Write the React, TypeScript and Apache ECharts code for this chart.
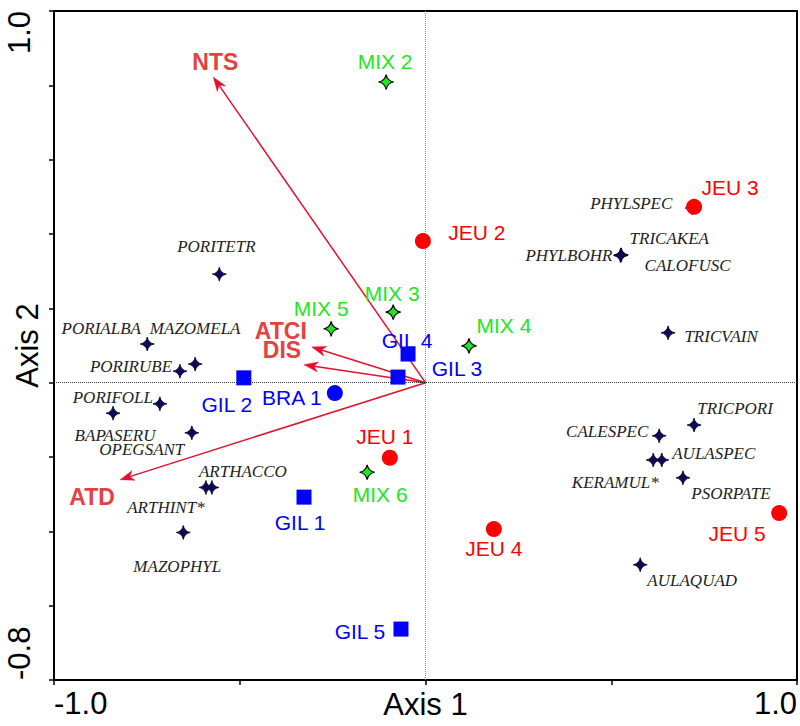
import React, { useEffect, useRef } from "react";
import * as echarts from "echarts";

// CCA biplot: sites, species scores and environmental vectors on axes 1 and 2

const gilNames = ["GIL 1", "GIL 2", "GIL 3", "GIL 4", "GIL 5"];
const gilAxis1 = [-0.327, -0.489, -0.074, -0.047, -0.066];
const gilAxis2 = [-0.308, 0.013, 0.015, 0.077, -0.663];

const braNames = ["BRA 1"];
const braAxis1 = [-0.244];
const braAxis2 = [-0.028];

const jeuNames = ["JEU 1", "JEU 2", "JEU 3", "JEU 4", "JEU 5"];
const jeuAxis1 = [-0.096, -0.007, 0.723, 0.184, 0.952];
const jeuAxis2 = [-0.202, 0.381, 0.473, -0.394, -0.351];

const mixNames = ["MIX 2", "MIX 3", "MIX 4", "MIX 5", "MIX 6"];
const mixAxis1 = [-0.106, -0.087, 0.117, -0.254, -0.157];
const mixAxis2 = [0.809, 0.19, 0.099, 0.145, -0.241];

const envNames = ["NTS", "ATCI", "DIS", "ATD"];
const envAxis1 = [-0.571, -0.306, -0.327, -0.822];
const envAxis2 = [0.822, 0.096, 0.048, -0.261];

const speciesNames = [
  "PORITETR", "PORIALBA", "MAZOMELA", "PORIRUBE", "PORIFOLL", "BAPASERU",
  "OPEGSANT", "ARTHACCO", "ARTHINT*", "MAZOPHYL", "PHYLSPEC", "PHYLBOHR",
  "TRICAKEA", "CALOFUSC", "TRICVAIN", "TRICPORI", "CALESPEC", "AULASPEC",
  "KERAMUL*", "PSORPATE", "AULAQUAD",
];
const speciesAxis1 = [
  -0.555, -0.749, -0.62, -0.661, -0.715, -0.841,
  -0.629, -0.575, -0.591, -0.652, 0.718, 0.526,
  0.527, 0.525, 0.653, 0.723, 0.629, 0.636,
  0.613, 0.693, 0.578,
];
const speciesAxis2 = [
  0.292, 0.104, 0.05, 0.031, -0.057, -0.082,
  -0.135, -0.282, -0.282, -0.403, 0.47, 0.343,
  0.344, 0.342, 0.134, -0.114, -0.143, -0.208,
  -0.208, -0.256, -0.49,
];

// label placement around each mark, in pixels
const labelOffsets: Record<string, [number, number]> = {
  "GIL 1": [-4, 25], "GIL 2": [-17, 27], "GIL 3": [59, -9], "GIL 4": [-1, -14],
  "GIL 5": [-41, 2], "BRA 1": [-43, 4],
  "JEU 1": [-5, -21], "JEU 2": [54, -9], "JEU 3": [36, -19], "JEU 4": [0, 19], "JEU 5": [-42, 20],
  "MIX 2": [-1, -20], "MIX 3": [-1, -19], "MIX 4": [35, -20], "MIX 5": [-10, -20], "MIX 6": [13, 22],
  NTS: [2, -15], ATCI: [-31, -16], DIS: [-22, -15], ATD: [-28, 17],
  PORITETR: [-3, -28], PORIALBA: [-46, -16], MAZOMELA: [0, -36], PORIRUBE: [-49, -5],
  PORIFOLL: [-47, -6], BAPASERU: [2, 22], OPEGSANT: [-50, 17], ARTHACCO: [31, -16],
  "ARTHINT*": [-40, 20], MAZOPHYL: [-6, 34], PHYLSPEC: [-61, -4], PHYLBOHR: [-52, 0],
  TRICAKEA: [48, -16], CALOFUSC: [67, 10], TRICVAIN: [53, 4], TRICPORI: [41, -17],
  CALESPEC: [-52, -4], AULASPEC: [52, -6], "KERAMUL*": [-38, 23], PSORPATE: [48, 16],
  AULAQUAD: [52, 16],
};

const STAR = "path://M0 -10 Q1.6 -1.6 10 0 Q1.6 1.6 0 10 Q-1.6 1.6 -10 0 Q-1.6 -1.6 0 -10 Z";
const SANS = "Liberation Sans, Arial, sans-serif";
const SERIF = "Liberation Serif, Times New Roman, serif";

function points(names: string[], xs: number[], ys: number[]) {
  return names.map((name, i) => {
    const off = labelOffsets[name] || [0, 0];
    return {
      name,
      value: [xs[i], ys[i]],
      label: { offset: off },
    };
  });
}

function siteLabel(color: string) {
  return {
    show: true,
    formatter: "{b}",
    position: "inside",
    align: "center",
    verticalAlign: "middle",
    color,
    opacity: 1,
    fontFamily: SANS,
    fontSize: 21,
  };
}

export default function App() {
  const ref = useRef<HTMLDivElement>(null);

  useEffect(() => {
    if (!ref.current) return;
    const chart = echarts.init(ref.current, undefined, { renderer: "svg" });

    const arrowData = envNames.map((name, i) => ({ name, value: [envAxis1[i], envAxis2[i]] }));

    chart.setOption({
      animation: false,
      backgroundColor: "#ffffff",
      grid: {
        left: 54,
        top: 11,
        right: 3,
        bottom: 46,
        containLabel: false,
        outerBoundsMode: "none",
        show: true,
        borderColor: "#000",
        borderWidth: 2,
        backgroundColor: "transparent",
      },
      xAxis: {
        type: "value",
        min: -1,
        max: 1,
        interval: 0.5,
        name: "Axis 1",
        nameLocation: "middle",
        nameGap: 9,
        nameMoveOverlap: false,
        nameTextStyle: { fontFamily: SANS, fontSize: 31, color: "#000", verticalAlign: "top" },
        axisLine: { onZero: false, lineStyle: { color: "#000", width: 2 } },
        axisTick: { show: true, length: 5, lineStyle: { color: "#000", width: 1.5 } },
        splitLine: { show: false },
        axisLabel: {
          margin: 8,
          fontFamily: SANS,
          fontSize: 31,
          color: "#000",
          alignMinLabel: "left",
          alignMaxLabel: "right",
          formatter: (v: number) => (v <= -0.99 ? "-1.0" : v >= 0.99 ? "1.0" : ""),
        },
      },
      yAxis: {
        type: "value",
        min: -0.8,
        max: 1.0,
        interval: 0.2,
        name: "Axis 2",
        nameLocation: "middle",
        nameGap: 11,
        nameRotate: 90,
        nameMoveOverlap: false,
        nameTextStyle: { fontFamily: SANS, fontSize: 31, color: "#000" },
        axisLine: { onZero: false, lineStyle: { color: "#000", width: 2 } },
        axisTick: { show: true, length: 5, lineStyle: { color: "#000", width: 1.5 } },
        splitLine: { show: false },
        axisLabel: {
          margin: 19,
          rotate: 90,
          fontFamily: SANS,
          fontSize: 31,
          color: "#000",
          alignMinLabel: "left",
          alignMaxLabel: "right",
          formatter: (v: number) => (v <= -0.79 ? "-0.8" : v >= 0.99 ? "1.0" : ""),
        },
      },
      series: [
        {
          // origin reference lines
          type: "scatter",
          data: [],
          silent: true,
          markLine: {
            silent: true,
            symbol: ["none", "none"],
            label: { show: false },
            data: [
              { xAxis: 0, lineStyle: { color: "#7f7fff", type: [1, 1], width: 1, opacity: 1 } },
              { yAxis: 0, lineStyle: { color: "#333", type: [1, 1], width: 1, opacity: 1 } },
            ],
          },
        },
        {
          // environmental vectors from the origin
          type: "custom",
          silent: true,
          z: 3,
          data: arrowData,
          renderItem: (params: any, api: any) => {
            const o = api.coord([0, 0]);
            const t = api.coord([api.value(0), api.value(1)]);
            const dx = t[0] - o[0];
            const dy = t[1] - o[1];
            const len = Math.sqrt(dx * dx + dy * dy);
            const ux = dx / len;
            const uy = dy / len;
            const px = -uy;
            const py = ux;
            const headLen = 14;
            const notch = 10;
            const half = 5;
            const bx = t[0] - ux * headLen;
            const by = t[1] - uy * headLen;
            const nx = t[0] - ux * notch;
            const ny = t[1] - uy * notch;
            const color = "#e0122f";
            return {
              type: "group",
              children: [
                {
                  type: "line",
                  shape: { x1: o[0], y1: o[1], x2: nx, y2: ny },
                  style: { stroke: color, lineWidth: 1.5 },
                },
                {
                  type: "polygon",
                  shape: {
                    points: [
                      [t[0], t[1]],
                      [bx + px * half, by + py * half],
                      [nx, ny],
                      [bx - px * half, by - py * half],
                    ],
                  },
                  style: { fill: color, stroke: color, lineWidth: 0.5 },
                },
              ],
            };
          },
        },
        {
          // vector labels
          type: "scatter",
          silent: true,
          z: 4,
          symbolSize: 1,
          itemStyle: { color: "rgba(0,0,0,0)", opacity: 1 },
          data: points(envNames, envAxis1, envAxis2),
          label: {
            show: true,
            formatter: "{b}",
            position: "inside",
            align: "center",
            verticalAlign: "middle",
            color: "#e5413e",
            opacity: 1,
            fontFamily: SANS,
            fontWeight: "bold",
            fontSize: 23,
          },
        },
        {
          // species scores
          type: "scatter",
          z: 5,
          symbol: STAR,
          symbolSize: 14,
          itemStyle: { color: "#0b0b55", borderColor: "#000022", borderWidth: 0.8, opacity: 1 },
          data: points(speciesNames, speciesAxis1, speciesAxis2),
          label: {
            show: true,
            formatter: "{b}",
            position: "inside",
            align: "center",
            verticalAlign: "middle",
            color: "#1e1e1e",
            opacity: 1,
            fontFamily: SERIF,
            fontStyle: "italic",
            fontSize: 17,
          },
        },
        {
          type: "scatter",
          z: 6,
          symbol: "rect",
          symbolSize: 15,
          itemStyle: { color: "#0000ff", opacity: 1 },
          data: points(gilNames, gilAxis1, gilAxis2),
          label: siteLabel("#0000ff"),
        },
        {
          type: "scatter",
          z: 6,
          symbol: "circle",
          symbolSize: 16,
          itemStyle: { color: "#0000ff", opacity: 1 },
          data: points(braNames, braAxis1, braAxis2),
          label: siteLabel("#0000ff"),
        },
        {
          type: "scatter",
          z: 6,
          symbol: "circle",
          symbolSize: 16,
          itemStyle: { color: "#ff0000", opacity: 1 },
          data: points(jeuNames, jeuAxis1, jeuAxis2),
          label: siteLabel("#ff0000"),
        },
        {
          type: "scatter",
          z: 6,
          symbol: STAR,
          symbolSize: 15,
          itemStyle: { color: "#22e622", borderColor: "#000", borderWidth: 1.2, opacity: 1 },
          data: points(mixNames, mixAxis1, mixAxis2),
          label: siteLabel("#22e622"),
        },
      ],
    });

    return () => chart.dispose();
  }, []);

  return (
    <div
      ref={ref}
      style={{ position: "fixed", left: 0, top: 0, width: 800, height: 726, background: "#fff" }}
    />
  );
}
